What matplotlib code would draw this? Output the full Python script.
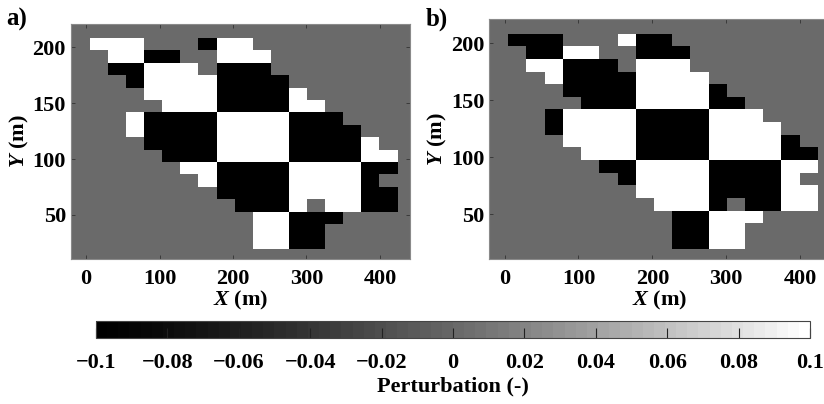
import numpy as np
import matplotlib
matplotlib.use("Agg")
import matplotlib.pyplot as plt
from matplotlib.colors import ListedColormap

# ---- data -------------------------------------------------------------
# grid cell edges (m)
x_edges = np.linspace(5.0, 424.0, 18)
y_edges = np.linspace(19.5, 208.5, 18)

# perturbation grids, top row first: 'W' = +0.1, 'B' = -0.1, '.' = 0
grid_a = [
    "WWW...BWW........",
    ".WWBB..WWW.......",
    ".BBWWW.BBB.......",
    "..BWWWWBBBB......",
    "...WWWWBBBBW.....",
    "....WWWBBBBWW....",
    "..WBBBBWWWWBBB...",
    "..WBBBBWWWWBBBB..",
    "...BBBBWWWWBBBBW.",
    "....BBBWWWWBBBBWW",
    ".....WWBBBBWWWWBB",
    "......WBBBBWWWWB.",
    ".......BBBBWWWWBB",
    "........BBBW.WWBB",
    ".........WWBBB...",
    ".........WWBB....",
    ".........WWBB....",
]
grid_b = [
    "BBB...WBB........",
    ".BBWW..BBB.......",
    ".WWBBB.WWW.......",
    "..WBBBBWWWW......",
    "...BBBBWWWWB.....",
    "....BBBWWWWBB....",
    "..BWWWWBBBBWWW...",
    "..BWWWWBBBBWWWW..",
    "...WWWWBBBBWWWWB.",
    "....WWWBBBBWWWWBB",
    ".....BBWWWWBBBBWW",
    "......BWWWWBBBBW.",
    ".......WWWWBBBBWW",
    "........WWWB.BBWW",
    ".........BBWWW...",
    ".........BBWW....",
    ".........BBWW....",
]
char_value = {"W": 0.1, "B": -0.1, ".": 0.0}

x_ticks = [0, 100, 200, 300, 400]
y_ticks = [50, 100, 150, 200]
cbar_ticks = [-0.1, -0.08, -0.06, -0.04, -0.02, 0, 0.02, 0.04, 0.06, 0.08, 0.1]
cbar_ticklabels = ["\u22120.1", "\u22120.08", "\u22120.06", "\u22120.04", "\u22120.02",
                   "0", "0.02", "0.04", "0.06", "0.08", "0.1"]
panel_labels = ["a)", "b)"]


def to_array(rows):
    arr = np.array([[char_value[c] for c in r] for r in rows])
    return arr[::-1]  # bottom row first


# ---- style ------------------------------------------------------------
plt.rcParams["font.family"] = ["Liberation Serif", "DejaVu Serif"]
plt.rcParams["font.weight"] = "bold"
plt.rcParams["mathtext.fontset"] = "custom"
plt.rcParams["mathtext.it"] = "Liberation Serif:italic:bold"
plt.rcParams["mathtext.rm"] = "Liberation Serif:bold"

levels = np.linspace(0, 1, 64) ** 1.3
cmap = ListedColormap(np.column_stack([levels, levels, levels]))

W, H = 824, 404
fig = plt.figure(figsize=(W / 100, H / 100), dpi=100)

FS = 16
positions = [
    [70.7 / W, 1 - 259 / H, 339.3 / W, 235 / H],
    [489 / W, 1 - 259 / H, 341.5 / W, 239.7 / H],
]
label_xy = [(6 / W, 1 - 19 / H), (426 / W, 1 - 19 / H)]

mesh = None
for pos, rows, plab, lxy in zip(positions, [grid_a, grid_b], panel_labels, label_xy):
    ax = fig.add_axes(pos)
    data = to_array(rows)
    mesh = ax.pcolormesh(x_edges, y_edges, data, cmap=cmap, vmin=-0.1, vmax=0.1)
    ax.set_facecolor(cmap(0.5))
    ax.set_xlim(-21, 441)
    ax.set_ylim(10.5, 221)
    ax.set_xticks(x_ticks)
    ax.set_yticks(y_ticks)
    ax.tick_params(direction="in", length=3, width=0.6, colors="#333333",
                   labelcolor="black", labelsize=FS, top=True, right=True)
    ax.tick_params(axis="x", pad=7)
    ax.tick_params(axis="y", pad=3.5)
    for lab in ax.get_xticklabels() + ax.get_yticklabels():
        lab.set_fontweight("bold")
    for s in ax.spines.values():
        s.set_color("#8a8a8a")
        s.set_linewidth(0.8)
    ax.set_xlabel(r"$X$ (m)", fontsize=FS, fontweight="bold", labelpad=0)
    ax.set_ylabel(r"$Y$ (m)", fontsize=FS, fontweight="bold", labelpad=1)
    fig.text(lxy[0], lxy[1], plab, fontsize=18, fontweight="bold",
             ha="left", va="center")

cax = fig.add_axes([96 / W, 1 - 337.5 / H, 714 / W, 16.5 / H])
cb = fig.colorbar(mesh, cax=cax, orientation="horizontal", ticks=cbar_ticks)
cb.ax.set_xticklabels(cbar_ticklabels)
cb.ax.tick_params(direction="in", length=7, width=0.8, colors="#222222",
                  labelcolor="black", labelsize=FS, pad=11)
for lab in cb.ax.get_xticklabels():
    lab.set_fontweight("bold")
cb.outline.set_edgecolor("#444444")
cb.outline.set_linewidth(0.8)
cb.set_label("Perturbation (-)", fontsize=FS, fontweight="bold", labelpad=3)

fig.savefig("out.png", dpi=100)
